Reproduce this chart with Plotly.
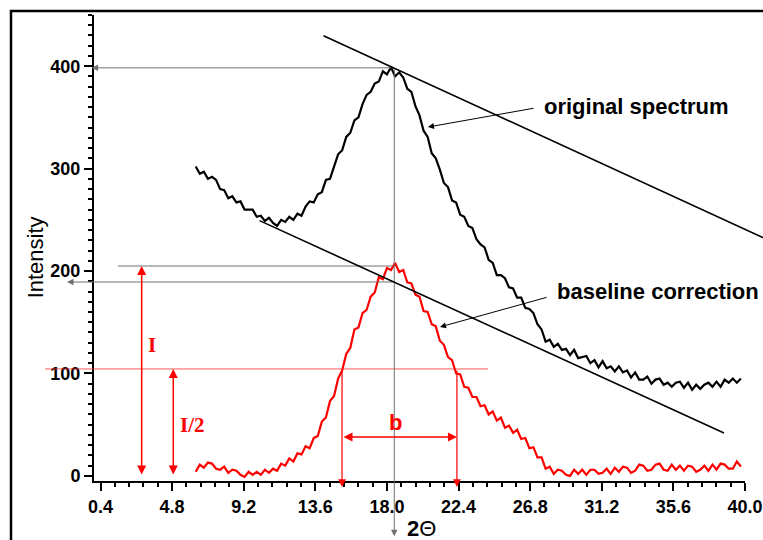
import plotly.graph_objects as go

# ---------------- data ----------------
X_START = 6.25          # first sample of the spectrum (2Theta, deg)
X_STEP = 0.25           # sampling step (deg)

ORIGINAL = [
    302, 295, 297, 290, 292, 289, 280, 279,
    271, 273, 267, 268, 260, 260, 260, 253,
    254, 249, 252, 247, 244, 250, 248, 253,
    250, 256, 254, 263, 268, 267, 275, 277,
    289, 290, 303, 314, 318, 331, 335, 347,
    350, 363, 372, 375, 383, 385, 395, 392,
    399, 390, 394, 389, 378, 375, 361, 352,
    337, 331, 315, 310, 299, 286, 282, 269,
    267, 255, 253, 244, 242, 231, 226, 223,
    211, 208, 196, 196, 193, 184, 183, 174,
    174, 164, 163, 159, 148, 143, 131, 133,
    126, 129, 123, 124, 118, 123, 115, 116,
    117, 110, 113, 106, 112, 105, 107, 102,
    107, 101, 103, 96, 101, 94, 94, 97,
    90, 94, 95, 89, 91, 87, 91, 92,
    86, 91, 84, 89, 85, 89, 91, 87,
    92, 87, 94, 91, 95, 91, 95,
]

CORRECTED = [
    4, 11, 8, 13, 12, 7, 6, 9,
    3, 6, 5, 1, -1, 4, 1, 4,
    1, 6, 3, 7, 5, 12, 10, 17,
    14, 22, 21, 29, 27, 37, 39, 53,
    57, 73, 78, 95, 103, 119, 125, 143,
    145, 159, 162, 175, 179, 194, 192, 203,
    201, 208, 199, 201, 189, 188, 177, 175,
    161, 160, 148, 146, 132, 128, 116, 113,
    100, 99, 87, 86, 77, 77, 68, 69,
    60, 63, 54, 57, 47, 49, 42, 45,
    36, 37, 27, 28, 18, 18, 7, 9,
    2, 6, 5, 1, 0, 6, 2, 6,
    1, 6, 6, 2, 3, 7, 2, 8,
    4, 9, 8, 3, 5, 11, 10, 5,
    6, 11, 12, 6, 5, 11, 6, 10,
    5, 10, 9, 4, 6, 10, 5, 11,
    6, 12, 11, 7, 7, 14, 9,
]

X = [X_START + X_STEP * i for i in range(len(ORIGINAL))]

# tangent lines (baseline and upper envelope)
BASELINE_X = [10.08, 38.71]
BASELINE_Y = [249.9, 41.9]
UPPER_X = [14.01, 42.0]
UPPER_Y = [430.5, 226.2]

# characteristic values
PEAK_X = 18.45
PEAK_ORIG = 398.4
PEAK_CORR = 204.9
BASE_AT_PEAK = 189.3
HALF_I = 104.4
FWHM_L = 15.24
FWHM_R = 22.30

X_TICKS = [0.4, 4.8, 9.2, 13.6, 18.0, 22.4, 26.8, 31.2, 35.6, 40.0]
X_TICK_TEXT = ["0.4", "4.8", "9.2", "13.6", "18.0", "22.4", "26.8", "31.2", "35.6", "40.0"]
Y_TICKS = [0, 100, 200, 300, 400]

# ---------------- figure ----------------
fig = go.Figure()
fig.add_trace(go.Scatter(x=X, y=ORIGINAL, mode="lines",
                         line=dict(color="black", width=2.2), name="original spectrum"))
fig.add_trace(go.Scatter(x=X, y=CORRECTED, mode="lines",
                         line=dict(color="#ff0000", width=2.2), name="baseline correction"))

ann = []


def line(x, y, ax, ay, color, width=1.0, head=0, side="end", size=1.0):
    ann.append(dict(x=x, y=y, ax=ax, ay=ay, xref="x", yref="y", axref="x", ayref="y",
                    text="", showarrow=True, arrowcolor=color, arrowwidth=width,
                    arrowhead=head, arrowside=side, arrowsize=size, standoff=0, startstandoff=0))


GREY = "#707070"
# horizontal helper lines
line(-0.15, PEAK_ORIG, PEAK_X, PEAK_ORIG, GREY, 1, head=2, size=1.3)
line(1.47, PEAK_CORR, PEAK_X, PEAK_CORR, GREY, 1)
line(-1.66, BASE_AT_PEAK, PEAK_X, BASE_AT_PEAK, GREY, 1, head=2, size=1.3)
line(-3.0, HALF_I, 24.3, HALF_I, "#ff3030", 0.8)
# vertical line through the peak
line(PEAK_X, -59, PEAK_X, PEAK_ORIG, GREY, 1, head=2, size=1.3)
# tangent lines
line(UPPER_X[1], UPPER_Y[1], UPPER_X[0], UPPER_Y[0], "black", 1.6)
line(BASELINE_X[1], BASELINE_Y[1], BASELINE_X[0], BASELINE_Y[0], "black", 1.6)
# I and I/2 arrows
line(2.93, PEAK_CORR, 2.93, 0, "#ff0000", 1.5, head=2, side="end+start", size=1.2)
line(4.87, HALF_I, 4.87, 0, "#ff0000", 1.5, head=2, side="end+start", size=1.2)
# FWHM drop lines
line(FWHM_L, -10.8, FWHM_L, HALF_I, "#ff0000", 1.2, head=2, size=1.3)
line(FWHM_R, -10.8, FWHM_R, HALF_I, "#ff0000", 1.2, head=2, size=1.3)
line(FWHM_R, 38, FWHM_L, 38, "#ff0000", 1.5, head=2, side="end+start", size=1.2)
# label arrows
line(20.52, 340.6, 27.1, 359.2, "black", 1, head=2, size=1.2)
line(21.26, 145.4, 27.9, 174.7, "black", 1, head=2, size=1.2)


def label(x, y, text, size, color="black", family="Liberation Sans, Arial", xanchor="center"):
    ann.append(dict(x=x, y=y, xref="x", yref="y", text=text, showarrow=False,
                    xanchor=xanchor, yanchor="middle",
                    font=dict(family=family, size=size, color=color)))


label(33.33, 360.2, "<b>original spectrum</b>", 22)
label(34.68, 179.6, "<b>baseline correction</b>", 22)
label(3.56, 127.8, "<b>I</b>", 21, "#ff0000", "Liberation Serif, Times New Roman")
label(5.16, 49.7, "<b>I/2</b>", 21, "#ff0000", "Liberation Serif, Times New Roman", xanchor="left")
label(18.5, 51.7, "<b>b</b>", 22, "#ff0000")

ann.append(dict(x=-0.0906, y=0.48, xref="paper", yref="paper", text="Intensity", textangle=-90,
                showarrow=False, xanchor="center", yanchor="middle",
                font=dict(family="Liberation Sans, Arial", size=22, color="black")))
ann.append(dict(x=0.477, y=-0.101, xref="paper", yref="paper", text="<b>2</b>\u0398",
                showarrow=False, xanchor="left", yanchor="middle",
                font=dict(family="Liberation Sans, Arial", size=22, color="black")))

fig.update_layout(
    width=763, height=540,
    margin=dict(l=94, r=18, t=15, b=59, autoexpand=False),
    paper_bgcolor="white", plot_bgcolor="white",
    showlegend=False,
    annotations=ann,
    shapes=[dict(type="rect", xref="paper", yref="paper", x0=-0.1275, x1=1.2, y0=-0.4, y1=1.0086,
                 line=dict(color="black", width=2.5), fillcolor="rgba(0,0,0,0)", layer="above")],
)

tickfont = dict(family="Liberation Sans, Arial", size=18, color="black", weight="bold")
fig.update_xaxes(range=[0, 40], tickvals=X_TICKS, ticktext=X_TICK_TEXT, automargin=False,
                 showline=True, linecolor="black", linewidth=2, ticks="outside",
                 ticklen=8, tickwidth=1.5, tickcolor="black", tickfont=tickfont,
                 minor=dict(dtick=0.88, tick0=0.4, ticks="outside", ticklen=4,
                            tickwidth=1.5, tickcolor="black"),
                 showgrid=False, zeroline=False)
fig.update_yaxes(range=[-5, 450], tickvals=Y_TICKS, automargin=False,
                 showline=True, linecolor="black", linewidth=2, ticks="outside",
                 ticklen=8, tickwidth=1.5, tickcolor="black", tickfont=tickfont,
                 minor=dict(dtick=10, tick0=0, ticks="outside", ticklen=4,
                            tickwidth=1.5, tickcolor="black"),
                 showgrid=False, zeroline=False)

fig.write_html("out.html")
